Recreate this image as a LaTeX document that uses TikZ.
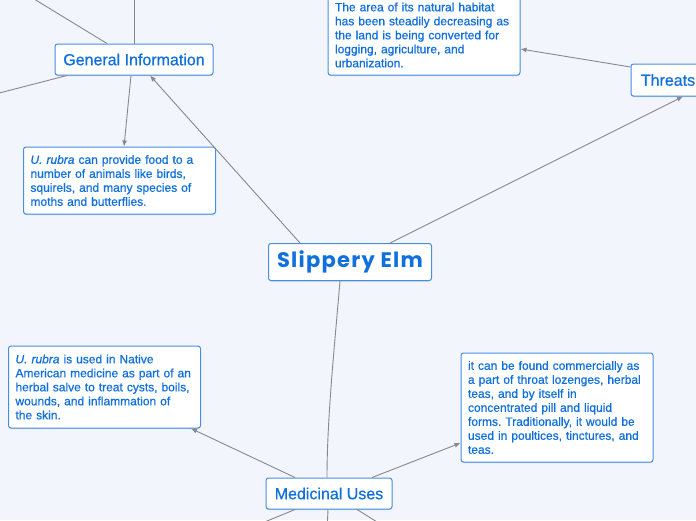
\documentclass[tikz,border=0pt]{standalone}
\usepackage{fontspec}
\setmainfont[FakeBold=0.7]{Liberation Sans}
\newfontfamily\titlefont[LetterSpace=6]{Poppins}
\usetikzlibrary{arrows.meta,shadows}
\definecolor{bgcol}{RGB}{243,245,253}
\definecolor{txtcol}{RGB}{16,112,222}
\definecolor{bordcol}{RGB}{70,142,228}
\definecolor{linecol}{RGB}{136,136,140}
\frenchspacing
\begin{document}
\begin{tikzpicture}[x=1pt, y=-1pt, line join=round,
    box/.style={draw=bordcol, line width=1pt, fill=white, rounded corners=2.5pt,
        text=txtcol, inner sep=0pt, align=left,
        drop shadow={shadow xshift=0pt, shadow yshift=-1pt, opacity=0.25, fill=bordcol!70!black}},
    topic/.style={box, font=\fontsize{16}{18}\selectfont},
    note/.style={box, font=\fontsize{12}{14}\selectfont, inner xsep=7pt, text width=178},
    link/.style={draw=linecol, line width=0.9pt},
    arr/.style={link, -{Latex[length=6pt,width=5pt]}}]
    \clip (0,0) rectangle (696,520);
    \fill[bgcol] (0,0) rectangle (696,520);

    % free ends that leave the page
    \coordinate (tl) at (-20,-34);
    \coordinate (tt) at (134,-20);
    \coordinate (ll) at (-20,98);
    \coordinate (bl) at (250,528);
    \coordinate (bm) at (327,532);
    \coordinate (br) at (390,530);

    % nodes
    \node[box, minimum width=163, minimum height=37, text=txtcol,
        font=\titlefont\bfseries\fontsize{21}{22}\selectfont] (elm) at (350,262) {Slippery Elm};
    \node[topic, minimum width=158, minimum height=31, align=center] (geninfo) at (134,59.5) {General Information};
    \node[topic, minimum width=74, minimum height=32, align=center] (threats) at (668,80) {Threats};
    \node[topic, minimum width=126, minimum height=31, align=center] (medical) at (329,493.5) {Medicinal Uses};
    \node[note, minimum height=80] (habitat) at (424,35)
        {The area of its natural habitat\\has been steadily decreasing as\\the land is being converted for\\logging, agriculture, and\\urbanization.};
    \node[note, minimum height=67] (food) at (119.5,180.5)
        {\textit{U. rubra} can provide food to a\\number of animals like birds,\\squirels, and many species of\\moths and butterflies.};
    \node[note, minimum height=82] (medicine) at (104.5,387)
        {\textit{U. rubra} is used in Native\\American medicine as part of an\\herbal salve to treat cysts, boils,\\wounds, and inflammation of\\the skin.};
    \node[note, minimum height=109] (commercial) at (557,407.5)
        {it can be found commercially as\\a part of throat lozenges, herbal\\teas, and by itself in\\concentrated pill and liquid\\forms. Traditionally, it would be\\used in poultices, tinctures, and\\teas.};

    % connectors
    \draw[arr] ([xshift=-50pt]elm.north) -- ([xshift=16pt]geninfo.south);
    \draw[arr] ([xshift=40pt]elm.north) -- ([xshift=15pt]threats.south);
    \draw[link] ([xshift=-10pt]elm.south) .. controls +(-5,60) and +(0,-60) .. ([xshift=-2pt]medical.north);
    \draw[arr] ([xshift=-3pt]geninfo.south) -- ([xshift=4.5pt]food.north);
    \draw[arr] ([yshift=13pt]threats.west) -- ([yshift=-14pt]habitat.east);
    \draw[arr] ([xshift=-34pt]medical.north) -- ([xshift=-10pt]medicine.south east);
    \draw[arr] ([xshift=43pt]medical.north) -- ([yshift=-35.5pt]commercial.west);
    \draw[link] ([xshift=-27pt]geninfo.north) -- (tl);
    \draw[link] (geninfo.north) -- (tt);
    \draw[link] ([xshift=-67pt]geninfo.south) -- (ll);
    \draw[link] ([xshift=-34pt]medical.south) -- (bl);
    \draw[link] ([xshift=-1pt]medical.south) -- (bm);
    \draw[link] ([xshift=28pt]medical.south) -- (br);
\end{tikzpicture}
\end{document}
